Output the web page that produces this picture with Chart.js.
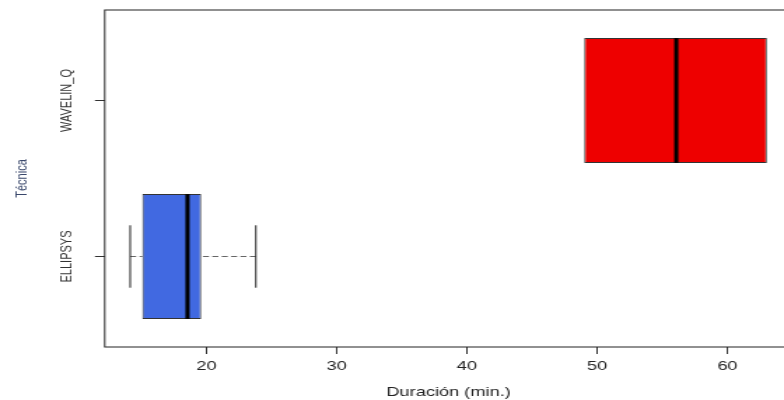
<!DOCTYPE html>
<html>
<head>
<meta charset="utf-8">
<script src="https://cdn.jsdelivr.net/npm/chart.js@4/dist/chart.umd.min.js"></script>
<style>
  html, body { margin: 0; padding: 0; background: #fff; overflow: hidden; width: 784px; height: 400px; }
  /* the plot is drawn at 570x400 and widened to the page width */
  #wrap { width: 570px; height: 400px; transform: scaleX(1.4); transform-origin: 0 0; }
  canvas { display: block; }
</style>
</head>
<body>
<div id="wrap"><canvas id="c" width="570" height="400"></canvas></div>
<script>
// Five-number summaries per technique (minutes)
const categories  = ['ELLIPSYS', 'WAVELIN_Q'];
const positions   = [1, 2];
const whiskerLow  = [14.14, 49.0];
const quartile1   = [15.07, 49.0];
const medians     = [18.54, 56.07];
const quartile3   = [19.59, 63.03];
const whiskerHigh = [23.79, 63.03];
const boxColors   = ['#4169E1', '#EE0000'];
const xTicks      = [20, 30, 40, 50, 60];

const BOX_WIDTH = 0.8;          // box height in category units
const STAPLE = BOX_WIDTH * 0.5; // whisker end caps
const FONT = "'Liberation Sans', Arial, Helvetica, sans-serif";

// axis limits padded 4% beyond the data, as in base R graphics
const lo = Math.min(...whiskerLow), hi = Math.max(...whiskerHigh);
const xMin = lo - 0.04 * (hi - lo), xMax = hi + 0.04 * (hi - lo);
const yMin = 0.5 - 0.04 * categories.length, yMax = categories.length + 0.5 + 0.04 * categories.length;

const boxplotParts = {
  id: 'boxplotParts',
  // whiskers and staples go underneath the boxes
  beforeDatasetsDraw(chart) {
    const { ctx, scales: { x, y } } = chart;
    ctx.save();
    categories.forEach((c, i) => {
      const yc = y.getPixelForValue(positions[i]);
      const s0 = y.getPixelForValue(positions[i] - STAPLE / 2);
      const s1 = y.getPixelForValue(positions[i] + STAPLE / 2);
      [[whiskerLow[i], quartile1[i]], [whiskerHigh[i], quartile3[i]]].forEach(([w, h]) => {
        if (w === h) return; // whisker collapses onto the box edge
        const pw = x.getPixelForValue(w), ph = x.getPixelForValue(h);
        ctx.strokeStyle = '#666';
        ctx.lineWidth = 1;
        ctx.setLineDash([4.3, 2.4]);
        ctx.beginPath();
        ctx.moveTo(pw, yc); ctx.lineTo(ph, yc);
        ctx.stroke();
        ctx.setLineDash([]);
        ctx.strokeStyle = '#222';
        ctx.beginPath();
        ctx.moveTo(pw, s0); ctx.lineTo(pw, s1);
        ctx.stroke();
      });
    });
    ctx.restore();
  },
  // medians on top of the boxes
  afterDatasetsDraw(chart) {
    const { ctx, scales: { x, y } } = chart;
    ctx.save();
    ctx.strokeStyle = '#000';
    ctx.lineWidth = 3;
    categories.forEach((c, i) => {
      const m = x.getPixelForValue(medians[i]);
      ctx.beginPath();
      ctx.moveTo(m, y.getPixelForValue(positions[i] - BOX_WIDTH / 2));
      ctx.lineTo(m, y.getPixelForValue(positions[i] + BOX_WIDTH / 2));
      ctx.stroke();
    });
    ctx.restore();
  },
  afterDraw(chart) {
    const { ctx, chartArea: a, scales: { y } } = chart;
    ctx.save();
    // plot frame
    ctx.strokeStyle = '#222';
    ctx.lineWidth = 1;
    ctx.strokeRect(a.left, a.top, a.right - a.left, a.bottom - a.top);
    // rotated category labels
    ctx.fillStyle = '#333';
    ctx.font = '11px ' + FONT;
    ctx.textAlign = 'center';
    ctx.textBaseline = 'alphabetic';
    categories.forEach((c, i) => {
      ctx.save();
      ctx.translate(a.left - 23.5, y.getPixelForValue(positions[i]));
      ctx.rotate(-Math.PI / 2);
      ctx.fillText(c, 0, 0);
      ctx.restore();
    });
    ctx.restore();
  }
};

new Chart(document.getElementById('c'), {
  type: 'bar',
  data: {
    datasets: [{
      data: categories.map((c, i) => ({ y: positions[i], x: [quartile1[i], quartile3[i]] })),
      backgroundColor: boxColors,
      borderColor: '#333',
      borderWidth: 1,
      borderSkipped: false,
      categoryPercentage: BOX_WIDTH,
      barPercentage: 1
    }]
  },
  options: {
    indexAxis: 'y',
    responsive: false,
    animation: false,
    layout: { padding: { top: 10, right: 4, left: 0, bottom: 0 } },
    plugins: { legend: { display: false }, tooltip: { enabled: false } },
    scales: {
      x: {
        type: 'linear',
        min: xMin,
        max: xMax,
        offset: false,
        afterBuildTicks: s => { s.ticks = xTicks.map(v => ({ value: v })); },
        afterFit: s => { s.height = 53; },
        border: { display: false },
        grid: { offset: false, drawOnChartArea: false, drawTicks: true, tickLength: 7, color: '#333' },
        ticks: { font: { family: FONT, size: 13 }, color: '#222', padding: 5, maxRotation: 0 },
        title: { display: true, text: 'Duración (min.)', font: { family: FONT, size: 13 }, color: '#222', padding: { top: 0, bottom: 0 } }
      },
      y: {
        type: 'linear',
        min: yMin,
        max: yMax,
        offset: false,
        afterBuildTicks: s => { s.ticks = positions.map(v => ({ value: v })); },
        afterFit: s => { s.width = 74.8; },
        border: { display: false },
        grid: { offset: false, drawOnChartArea: false, drawTicks: true, tickLength: 7, color: '#333' },
        ticks: { display: false },
        title: { display: true, text: 'Técnica', font: { family: FONT, size: 11 }, color: '#39476b', padding: { top: 9, bottom: 0 } }
      }
    }
  },
  plugins: [boxplotParts]
});
</script>
</body>
</html>
